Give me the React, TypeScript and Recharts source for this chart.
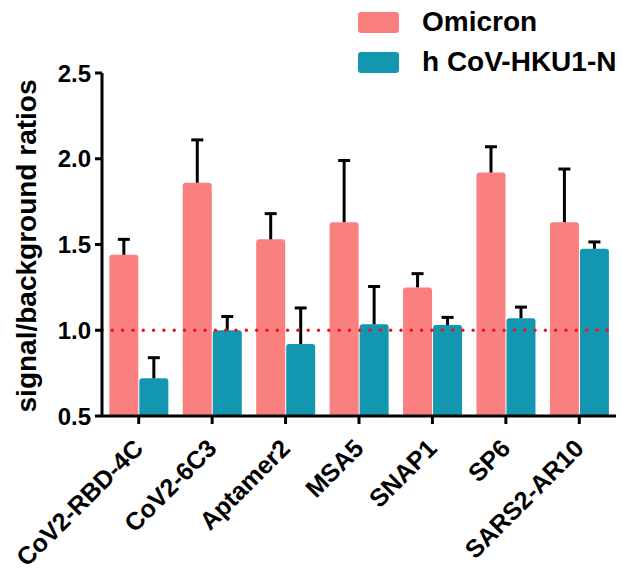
import React from "react";
import {
  BarChart,
  Bar,
  XAxis,
  YAxis,
  ReferenceLine,
  Label,
} from "recharts";

const categories = [
  "CoV2-RBD-4C",
  "CoV2-6C3",
  "Aptamer2",
  "MSA5",
  "SNAP1",
  "SP6",
  "SARS2-AR10",
];
const omicron = [1.44, 1.86, 1.53, 1.63, 1.25, 1.92, 1.63];
const omicronErr = [0.09, 0.25, 0.15, 0.36, 0.08, 0.15, 0.31];
const hku1 = [0.72, 1.0, 0.92, 1.035, 1.03, 1.07, 1.475];
const hku1Err = [0.12, 0.08, 0.21, 0.22, 0.045, 0.065, 0.04];
const yTicks = [0.5, 1.0, 1.5, 2.0, 2.5];
const seriesNames = ["Omicron", "h CoV-HKU1-N"];

const PINK = "#FA7F7F";
const TEAL = "#1397B1";
const FONT = "'Liberation Sans', Arial, sans-serif";
const BASE = 0.5;

const data = categories.map((name, i) => ({
  name,
  omicron: omicron[i],
  omicronErr: omicronErr[i],
  hku1: hku1[i],
  hku1Err: hku1Err[i],
}));

// bar with rounded top and an upper-only error whisker
function makeShape(valKey: string, errKey: string) {
  return (props: any) => {
    const { x, y, width, height, payload, fill } = props;
    const v = payload[valKey];
    const err = payload[errKey];
    const perUnit = height / (v - BASE);
    const top = y - err * perUnit;
    const cx = x + width / 2;
    const r = 3;
    const d = `M${x},${y + height} L${x},${y + r} Q${x},${y} ${x + r},${y} L${
      x + width - r
    },${y} Q${x + width},${y} ${x + width},${y + r} L${x + width},${y + height} Z`;
    return (
      <g>
        <path d={d} fill={fill} />
        <line x1={cx} y1={y} x2={cx} y2={top} stroke="#000" strokeWidth={3} />
        <line x1={cx - 6} y1={top} x2={cx + 6} y2={top} stroke="#000" strokeWidth={3} />
      </g>
    );
  };
}

function XTick({ x, y, payload }: any) {
  const ax = x + 6;
  const ay = y + 24;
  return (
    <text
      x={ax}
      y={ay}
      transform={`rotate(-45 ${ax} ${ay})`}
      textAnchor="end"
      fontSize={25}
      fontWeight={700}
      fontFamily={FONT}
      fill="#000"
    >
      {payload.value}
    </text>
  );
}

function LegendBox() {
  const colors = [PINK, TEAL];
  return (
    <div style={{ position: "absolute", top: 2, left: 358, fontFamily: FONT }}>
      {seriesNames.map((label, i) => (
        <div key={label} style={{ display: "flex", alignItems: "center", height: 40 }}>
          <div
            style={{ width: 41, height: 21, borderRadius: 3, background: colors[i], marginRight: 23 }}
          />
          <span style={{ fontSize: 28, fontWeight: 700, color: "#000", whiteSpace: "nowrap" }}>
            {label}
          </span>
        </div>
      ))}
    </div>
  );
}

export default function App() {
  return (
    <div style={{ position: "absolute", left: 0, top: 0, width: 622, height: 570, background: "#fff" }}>
      <BarChart
        width={622}
        height={570}
        data={data}
        margin={{ top: 73, right: 6, bottom: 0, left: 0 }}
        barCategoryGap="10%"
        barGap={1}
      >
        <XAxis
          dataKey="name"
          interval={0}
          height={154}
          tickSize={8}
          axisLine={{ stroke: "#000", strokeWidth: 3 }}
          tickLine={{ stroke: "#000", strokeWidth: 3 }}
          tick={<XTick />}
        />
        <YAxis
          type="number"
          domain={[0.5, 2.5]}
          ticks={yTicks}
          width={102}
          tickSize={7}
          tickMargin={4}
          tickFormatter={(v) => Number(v).toFixed(1)}
          axisLine={{ stroke: "#000", strokeWidth: 3 }}
          tickLine={{ stroke: "#000", strokeWidth: 3 }}
          tick={{ fill: "#000", fontSize: 24, fontWeight: 700, fontFamily: FONT }}
        >
          <Label
            content={() => (
              <text
                x={36}
                y={246}
                transform="rotate(-90 36 246)"
                textAnchor="middle"
                fontSize={28}
                fontWeight={700}
                fontFamily={FONT}
                fill="#000"
              >
                signal/background ratios
              </text>
            )}
          />
        </YAxis>
        <Bar
          dataKey="omicron"
          name={seriesNames[0]}
          fill={PINK}
          isAnimationActive={false}
          shape={makeShape("omicron", "omicronErr")}
        />
        <Bar
          dataKey="hku1"
          name={seriesNames[1]}
          fill={TEAL}
          isAnimationActive={false}
          shape={makeShape("hku1", "hku1Err")}
        />
        <ReferenceLine
          y={1}
          stroke="#E8161C"
          strokeWidth={3.5}
          strokeDasharray="0.01 10.3"
          strokeLinecap="round"
        />
      </BarChart>
      <LegendBox />
    </div>
  );
}
